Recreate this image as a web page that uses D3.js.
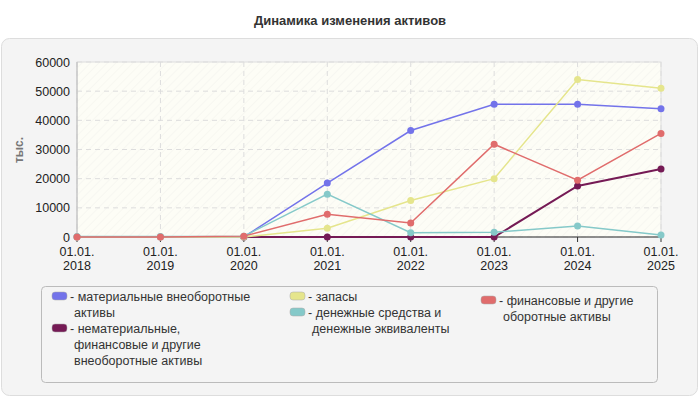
<!DOCTYPE html><html><head><meta charset="utf-8"><script src="https://cdn.jsdelivr.net/npm/d3@7"></script>
<style>body{margin:0;background:#fff}text{font-family:"Liberation Sans",Arial,sans-serif}</style></head><body><svg id="c" width="700" height="400"></svg><script>
const categories=["01.01.\n2018","01.01.\n2019","01.01.\n2020","01.01.\n2021","01.01.\n2022","01.01.\n2023","01.01.\n2024","01.01.\n2025"];
const seriesNames=["материальные внеоборотные активы","нематериальные, финансовые и другие внеоборотные активы","запасы","денежные средства и денежные эквиваленты","финансовые и другие оборотные активы"];
const colors=["#7373ea","#751a55","#e5e58c","#85c9c9","#e06c6c"];
const tangible=[0,0,0,18500,36500,45500,45500,44000];
const intangible=[null,null,0,0,0,0,17500,23300];
const stocks=[0,0,0,3000,12500,20000,54000,51000];
const cash=[200,200,300,14700,1500,1600,3800,700];
const financial=[0,0,300,7800,4800,31800,19500,35500];
const yTicks=[0,10000,20000,30000,40000,50000,60000];
const series=[tangible,intangible,stocks,cash,financial];
const svg=d3.select("#c");
svg.append("text").attr("x",350).attr("y",25).attr("text-anchor","middle").attr("font-size",13).attr("font-weight","bold").attr("fill","#333").text("Динамика изменения активов");
svg.append("rect").attr("x",1.5).attr("y",38.5).attr("width",696).attr("height",357).attr("rx",8).attr("fill","#f4f4f4").attr("stroke","#ddd");
const x=d3.scalePoint().domain(d3.range(categories.length)).range([77,661]);
const y=d3.scaleLinear().domain([0,60000]).range([237,62]);
const defs=svg.append("defs");
const p=defs.append("pattern").attr("id","h").attr("width",6).attr("height",6).attr("patternUnits","userSpaceOnUse").attr("patternTransform","rotate(-45)");
p.append("rect").attr("width",6).attr("height",6).attr("fill","#fdfdf6");
p.append("line").attr("x1",0).attr("y1",0).attr("x2",6).attr("y2",0).attr("stroke","#f5f5f0").attr("stroke-width",1.5);
svg.append("rect").attr("x",77).attr("y",62).attr("width",584).attr("height",175).attr("fill","url(#h)").attr("stroke","#ddd");
const g=svg.append("g");
yTicks.forEach(t=>{g.append("line").attr("x1",77).attr("x2",661).attr("y1",y(t)).attr("y2",y(t)).attr("stroke","#ddd").attr("stroke-dasharray","5,4");
g.append("text").attr("x",70).attr("y",y(t)+4.5).attr("text-anchor","end").attr("font-size",12.5).attr("fill","#222").text(t);});
categories.forEach((c,i)=>{g.append("line").attr("x1",x(i)).attr("x2",x(i)).attr("y1",62).attr("y2",237).attr("stroke","#ddd").attr("stroke-dasharray","5,4");
g.append("line").attr("x1",x(i)).attr("x2",x(i)).attr("y1",237).attr("y2",242).attr("stroke","#333");
c.split("\n").forEach((s,k)=>g.append("text").attr("x",x(i)).attr("y",256+k*14).attr("text-anchor","middle").attr("font-size",12.5).attr("fill","#222").text(s));});
g.append("line").attr("x1",77).attr("x2",661).attr("y1",237).attr("y2",237).attr("stroke","#333");
g.append("line").attr("x1",77).attr("x2",77).attr("y1",62).attr("y2",237).attr("stroke","#bbb");
svg.append("text").attr("transform","translate(23,150) rotate(-90)").attr("text-anchor","middle").attr("font-size",12).attr("font-weight","bold").attr("fill","#777").text("тыс.");
const line=d3.line().defined(d=>d!=null).x((d,i)=>x(i)).y(d=>y(d));
series.forEach((s,j)=>{svg.append("path").attr("d",line(s)).attr("fill","none").attr("stroke",colors[j]).attr("stroke-width",j==1?2:1.5);
s.forEach((v,i)=>{if(v!=null)svg.append("circle").attr("cx",x(i)).attr("cy",y(v)).attr("r",3.5).attr("fill",colors[j]);});});
svg.append("rect").attr("x",41.5).attr("y",286.5).attr("width",616).attr("height",96).attr("rx",4).attr("fill","#f4f4f4").attr("stroke","#bbb");
const leg=[[52,301,["материальные внеоборотные","активы"]],[52,333,["нематериальные,","финансовые и другие","внеоборотные активы"]],[290,301,["запасы"]],[290,317,["денежные средства и","денежные эквиваленты"]],[481,305,["финансовые и другие","оборотные активы"]]];
leg.forEach((l,j)=>{svg.append("rect").attr("x",l[0]).attr("y",l[1]-9).attr("width",15).attr("height",8).attr("rx",3).attr("fill",colors[j]).attr("stroke","#aaa").attr("stroke-width",0.5);
l[2].forEach((s,k)=>svg.append("text").attr("x",l[0]+(k==0?18:22)).attr("y",l[1]+k*16).attr("font-size",12.5).attr("fill","#333").text((k==0?"- ":"")+s));});
</script></body></html>
